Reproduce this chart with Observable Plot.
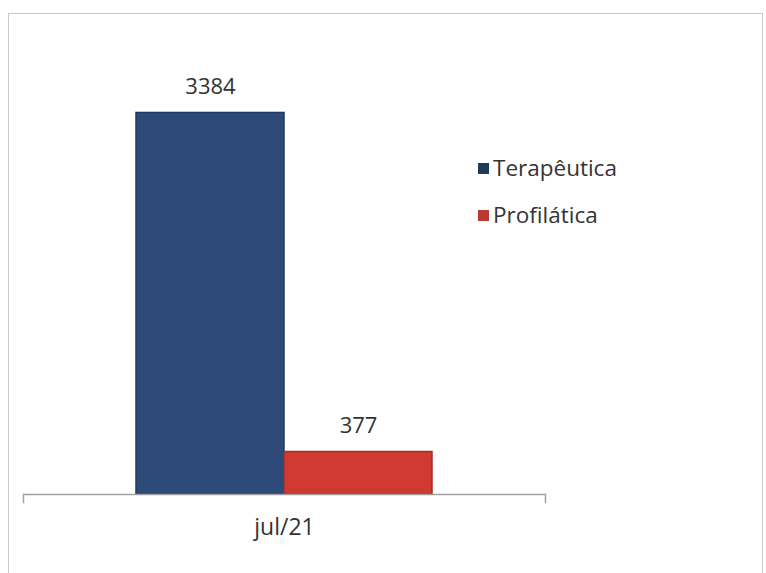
<!DOCTYPE html>
<html><head><meta charset="utf-8">
<script src="https://cdn.jsdelivr.net/npm/d3@7"></script>
<script src="https://cdn.jsdelivr.net/npm/@observablehq/plot@0.6"></script>
<style>
body{margin:0;background:#fff;}
#wrap{position:relative;width:766px;height:573px;overflow:hidden;font-family:"Open Sans",sans-serif;background:#fff;}
#border{position:absolute;left:8px;top:13px;width:755px;height:600px;border:1.5px solid #c8c8c8;box-sizing:border-box;pointer-events:none;}
#chart{position:absolute;left:0;top:0;}
.legend{position:absolute;left:478px;font-size:22.5px;color:#333;line-height:1;}
.legend .item{position:absolute;left:0;white-space:nowrap;display:flex;align-items:center;}
.legend .sw{width:11px;height:11px;margin-right:4px;display:inline-block;}
</style></head>
<body>
<div id="wrap">
<div id="chart"></div>
<div class="legend" id="legend"></div>
<div id="border"></div>
</div>
<script>
const months = ["jul/21"];
const series = ["Terapêutica", "Profilática"];
const values = [3384, 377];
const colors = ["#2e4a78", "#d03a32"];
const strokes = ["#22395f", "#a52c26"];
const legendColors = ["#1f3a5c", "#b93a31"];

const data = series.map((s, i) => ({month: months[0], series: s, value: values[i]}));

const chart = Plot.plot({
  width: 766,
  height: 573,
  marginLeft: 23,
  marginRight: 221,
  marginTop: 43,
  marginBottom: 79,
  style: {fontFamily: "Open Sans, sans-serif", fontSize: "23px", color: "#333", background: "transparent"},
  fx: {domain: months, padding: 0, axis: "bottom", tickSize: 0, tickPadding: 24, label: null},
  x: {domain: series, paddingInner: 0, paddingOuter: 0.754, axis: null},
  y: {domain: [0, 4000], axis: null},
  color: {domain: series, range: colors},
  marks: [
    Plot.barY(data, {fx: "month", x: "series", y: "value", fill: "series",
      stroke: (d, i) => strokes[series.indexOf(d.series)], strokeWidth: 1.5}),
    Plot.text(data, {fx: "month", x: "series", y: "value", text: d => String(d.value), dy: -26, fontSize: 22, fill: "#333"}),
    Plot.ruleY([0], {stroke: "#a0a0a0", strokeWidth: 1.5}),
    Plot.frame({anchor: "left", insetTop: 451, insetBottom: -8, stroke: "#a0a0a0", strokeWidth: 1.5}),
    Plot.frame({anchor: "right", insetTop: 451, insetBottom: -8, stroke: "#a0a0a0", strokeWidth: 1.5})
  ]
});
document.getElementById("chart").appendChild(chart);

const legend = document.getElementById("legend");
const tops = [157, 204];
series.forEach((s, i) => {
  const item = document.createElement("div");
  item.className = "item";
  item.style.top = tops[i] + "px";
  const sw = document.createElement("span");
  sw.className = "sw";
  sw.style.background = legendColors[i];
  item.appendChild(sw);
  item.appendChild(document.createTextNode(s));
  legend.appendChild(item);
});
</script>
</body></html>
